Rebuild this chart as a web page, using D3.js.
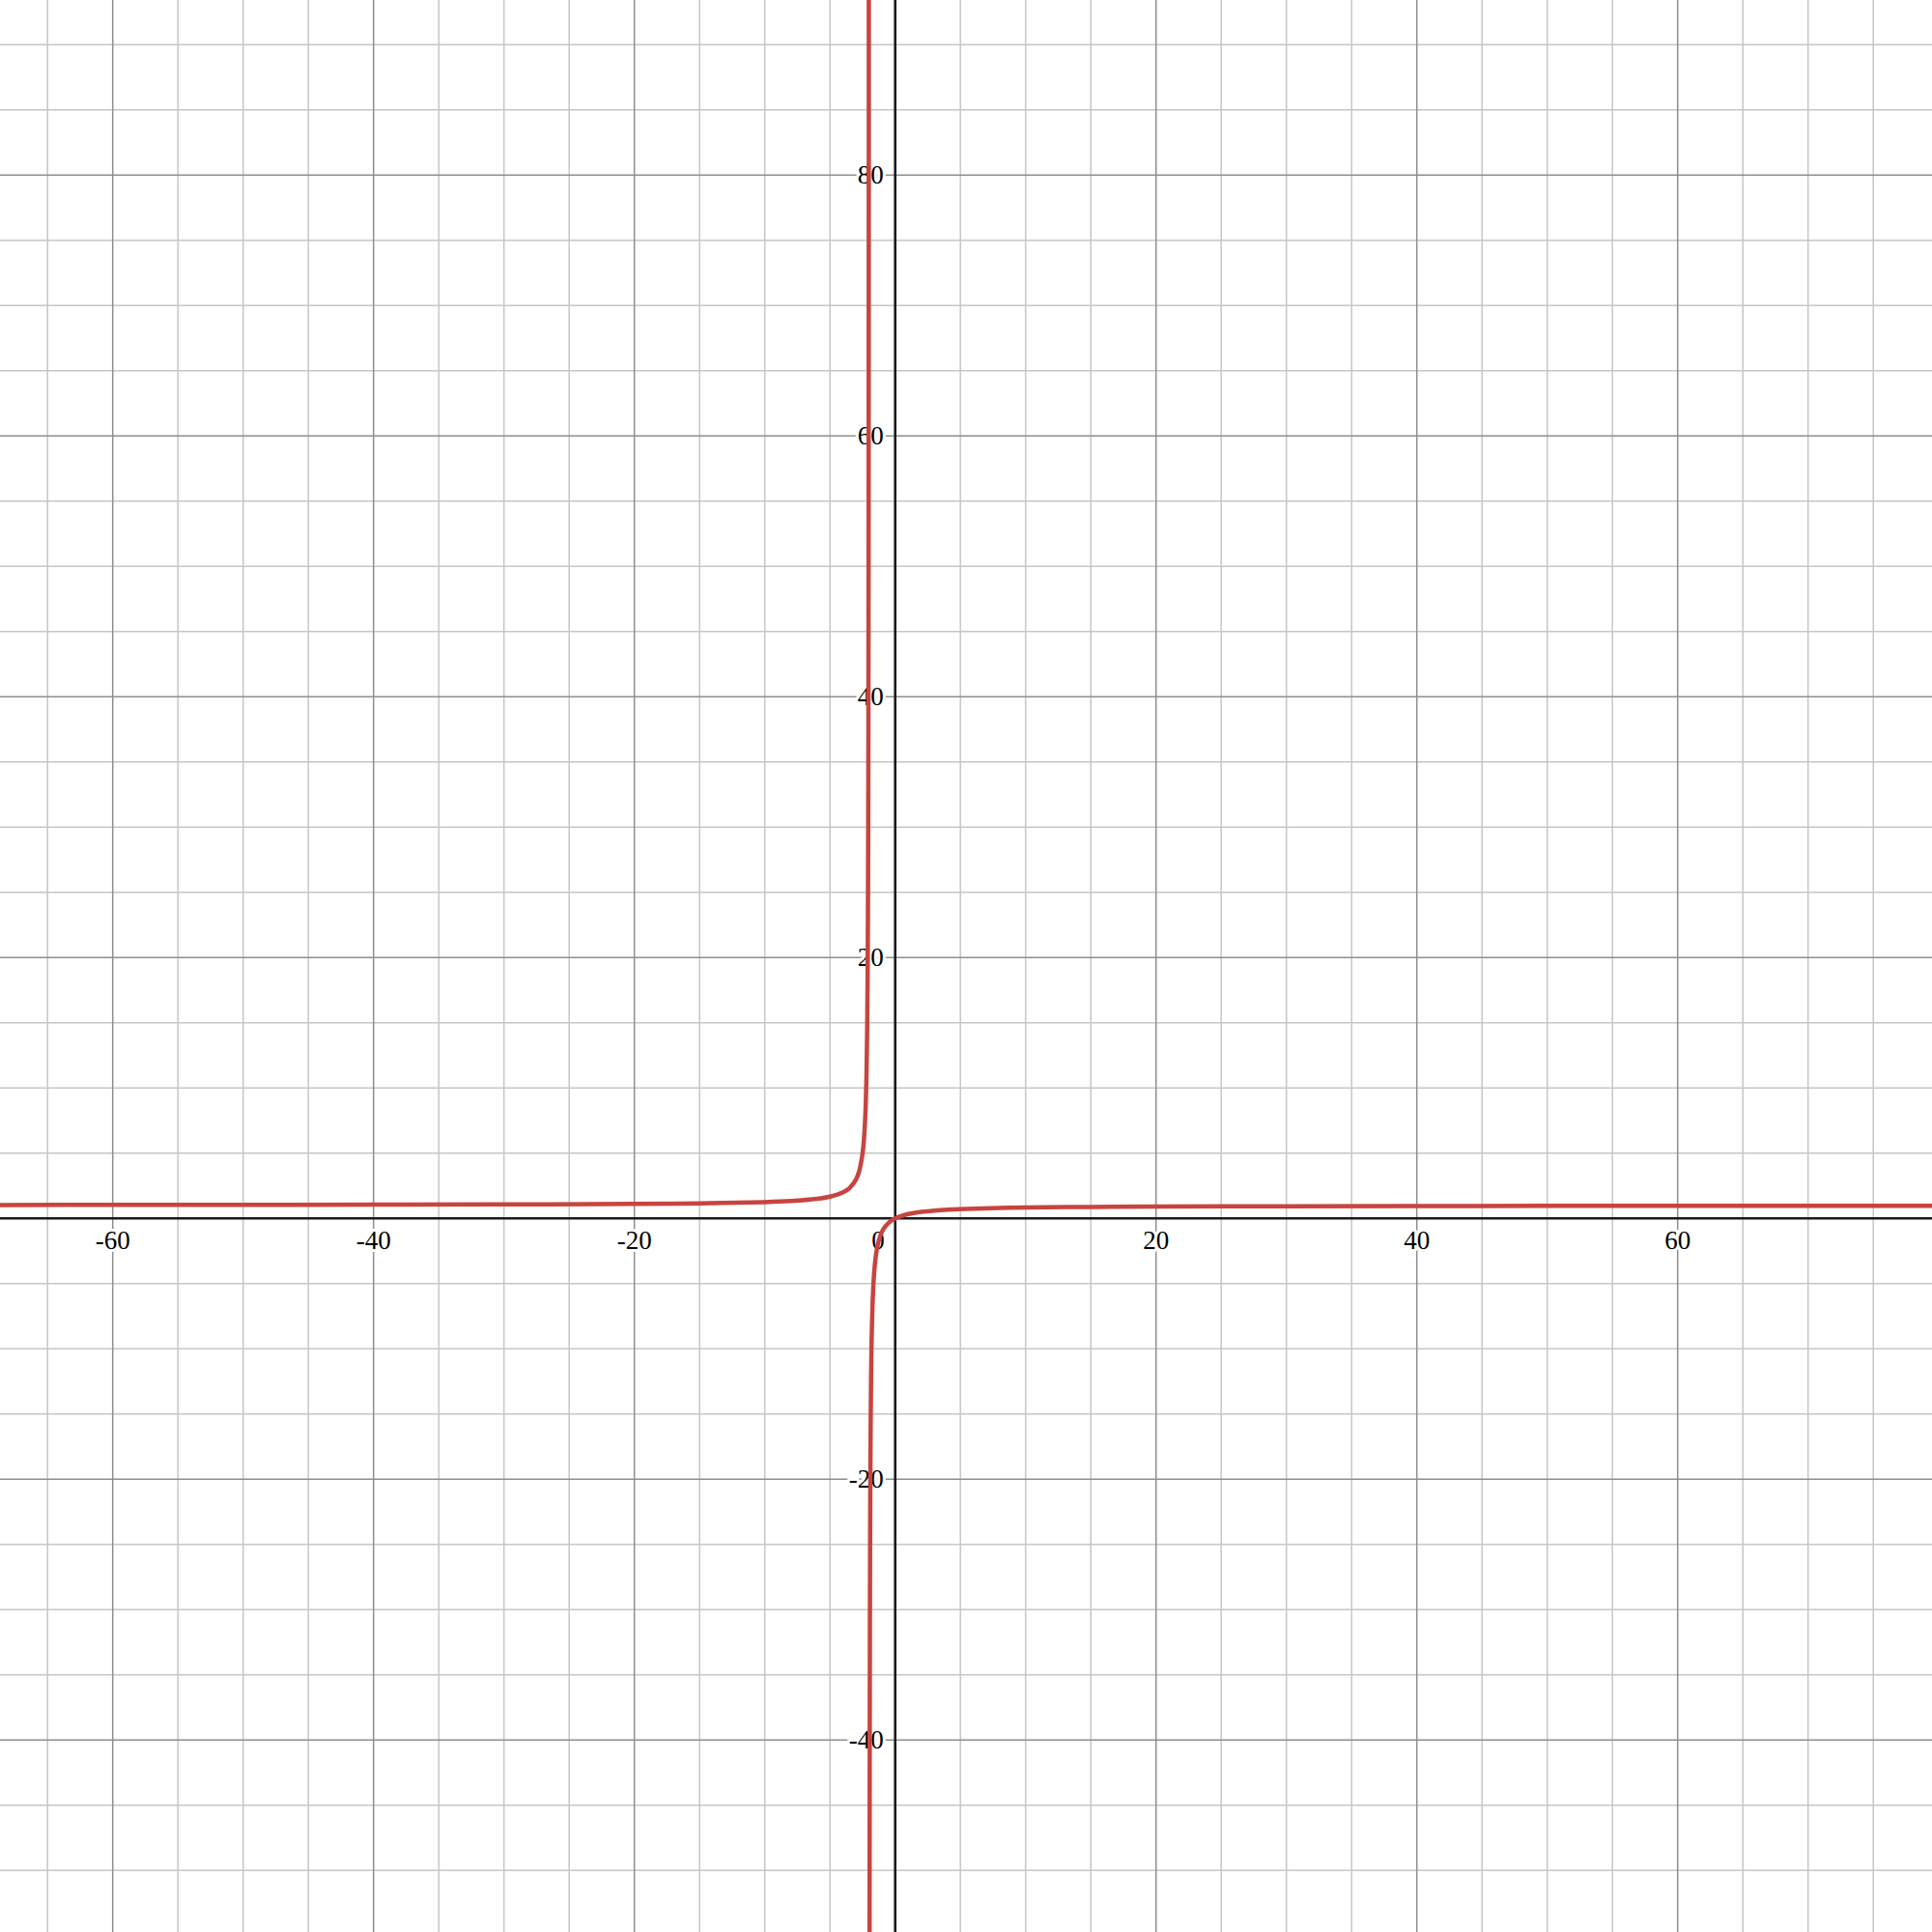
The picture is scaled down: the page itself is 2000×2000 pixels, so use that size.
<!DOCTYPE html>
<html>
<head>
<meta charset="utf-8">
<script src="https://cdn.jsdelivr.net/npm/d3@7"></script>
<style>
  html, body { margin: 0; padding: 0; background: #fff; }
  svg { display: block; }
</style>
</head>
<body>
<script>
// Curve points (two branches separated by the vertical asymptote near x = -2)
const leftBranchX = [-70, -60, -50, -40, -30, -20, -15, -10, -8, -6, -5, -4, -3.5, -3, -2.75, -2.5, -2.4, -2.3, -2.25, -2.2, -2.15, -2.1, -2.08, -2.06, -2.05, -2.04, -2.03, -2.025, -2.02];
const leftBranchY = [1.0294, 1.0345, 1.0417, 1.0526, 1.0714, 1.1111, 1.1538, 1.25, 1.3333, 1.5, 1.6667, 2, 2.3333, 3, 3.6667, 5, 6, 7.6667, 9, 11, 14.333, 21, 26, 34.333, 41, 51, 67.667, 81, 101];
const rightBranchX = [-1.966, -1.96, -1.95, -1.94, -1.92, -1.9, -1.85, -1.8, -1.7, -1.6, -1.5, -1.4, -1.25, -1, -0.75, -0.5, -0.25, 0, 0.5, 1, 1.5, 2, 3, 4, 6, 8, 10, 15, 20, 30, 40, 50, 60, 70, 80];
const rightBranchY = [-57.82, -49, -39, -32.333, -24, -19, -12.333, -9, -5.6667, -4, -3, -2.3333, -1.6667, -1, -0.6, -0.3333, -0.1429, 0, 0.2, 0.3333, 0.4286, 0.5, 0.6, 0.6667, 0.75, 0.8, 0.8333, 0.8824, 0.9091, 0.9375, 0.9524, 0.9615, 0.9677, 0.9722, 0.9756];

const xTickLabels = [-60, -40, -20, 20, 40, 60];
const yTickLabels = [-40, -20, 20, 40, 60, 80];
const originLabel = "0";

const W = 2000, H = 2000;
const ppu = 13.5, ox = 926.7, oy = 1261.3;
const FONT = "'Liberation Serif', 'DejaVu Serif', 'Times New Roman', serif";

const x = d3.scaleLinear().domain([-ox / ppu, (W - ox) / ppu]).range([0, W]);
const y = d3.scaleLinear().domain([oy / ppu, -(H - oy) / ppu]).range([0, H]);

const svg = d3.select("body").append("svg").attr("width", W).attr("height", H);

const minorX = d3.range(Math.ceil(x.domain()[0] / 5) * 5, x.domain()[1], 5).filter(v => v % 20 !== 0);
const minorY = d3.range(Math.ceil(y.domain()[1] / 5) * 5, y.domain()[0], 5).filter(v => v % 20 !== 0);
const majorX = d3.range(Math.ceil(x.domain()[0] / 20) * 20, x.domain()[1], 20).filter(v => v !== 0);
const majorY = d3.range(Math.ceil(y.domain()[1] / 20) * 20, y.domain()[0], 20).filter(v => v !== 0);

const grid = svg.append("g");
grid.selectAll(".mx").data(minorX).join("line")
  .attr("x1", d => x(d)).attr("x2", d => x(d)).attr("y1", 0).attr("y2", H)
  .attr("stroke", "#c6c6c6").attr("stroke-width", 1.5);
grid.selectAll(".my").data(minorY).join("line")
  .attr("y1", d => y(d)).attr("y2", d => y(d)).attr("x1", 0).attr("x2", W)
  .attr("stroke", "#c6c6c6").attr("stroke-width", 1.5);
grid.selectAll(".Mx").data(majorX).join("line")
  .attr("x1", d => x(d)).attr("x2", d => x(d)).attr("y1", 0).attr("y2", H)
  .attr("stroke", "#8e8e8e").attr("stroke-width", 1.5);
grid.selectAll(".My").data(majorY).join("line")
  .attr("y1", d => y(d)).attr("y2", d => y(d)).attr("x1", 0).attr("x2", W)
  .attr("stroke", "#8e8e8e").attr("stroke-width", 1.5);

const labels = svg.append("g");

function styleLabel(sel) {
  sel.style("font-family", FONT)
    .style("font-size", "27px")
    .attr("fill", "#000")
    .attr("stroke", "#fff").attr("stroke-width", 6)
    .attr("paint-order", "stroke")
    .attr("stroke-linejoin", "round");
}

labels.selectAll(".xl").data(xTickLabels).join("text")
  .attr("x", d => x(d)).attr("y", y(0) + 32)
  .attr("text-anchor", "middle")
  .call(styleLabel)
  .text(d => d);

labels.selectAll(".yl").data(yTickLabels).join("text")
  .attr("x", x(0) - 12).attr("y", d => y(d))
  .attr("dy", "0.34em")
  .attr("text-anchor", "end")
  .call(styleLabel)
  .text(d => d);

labels.append("text")
  .attr("x", x(0) - 11).attr("y", y(0) + 32)
  .attr("text-anchor", "end")
  .call(styleLabel)
  .text(originLabel);

const axes = svg.append("g").attr("stroke", "#1a1a1a").attr("stroke-width", 2.6);
axes.append("line").attr("x1", 0).attr("x2", W).attr("y1", y(0)).attr("y2", y(0));
axes.append("line").attr("x1", x(0)).attr("x2", x(0)).attr("y1", 0).attr("y2", H);

const line = d3.line().x(d => x(d[0])).y(d => y(d[1])).curve(d3.curveCatmullRom.alpha(0.5));
const branches = [
  d3.zip(leftBranchX, leftBranchY),
  d3.zip(rightBranchX, rightBranchY)
];
svg.append("defs").append("clipPath").attr("id", "clip")
  .append("rect").attr("x", 0).attr("y", 0).attr("width", W).attr("height", H);
svg.append("g").attr("clip-path", "url(#clip)")
  .selectAll("path").data(branches).join("path")
  .attr("d", line)
  .attr("fill", "none")
  .attr("stroke", "#c74440")
  .attr("stroke-width", 4.5)
  .attr("stroke-linejoin", "round")
  .attr("stroke-linecap", "round");
</script>
</body>
</html>
